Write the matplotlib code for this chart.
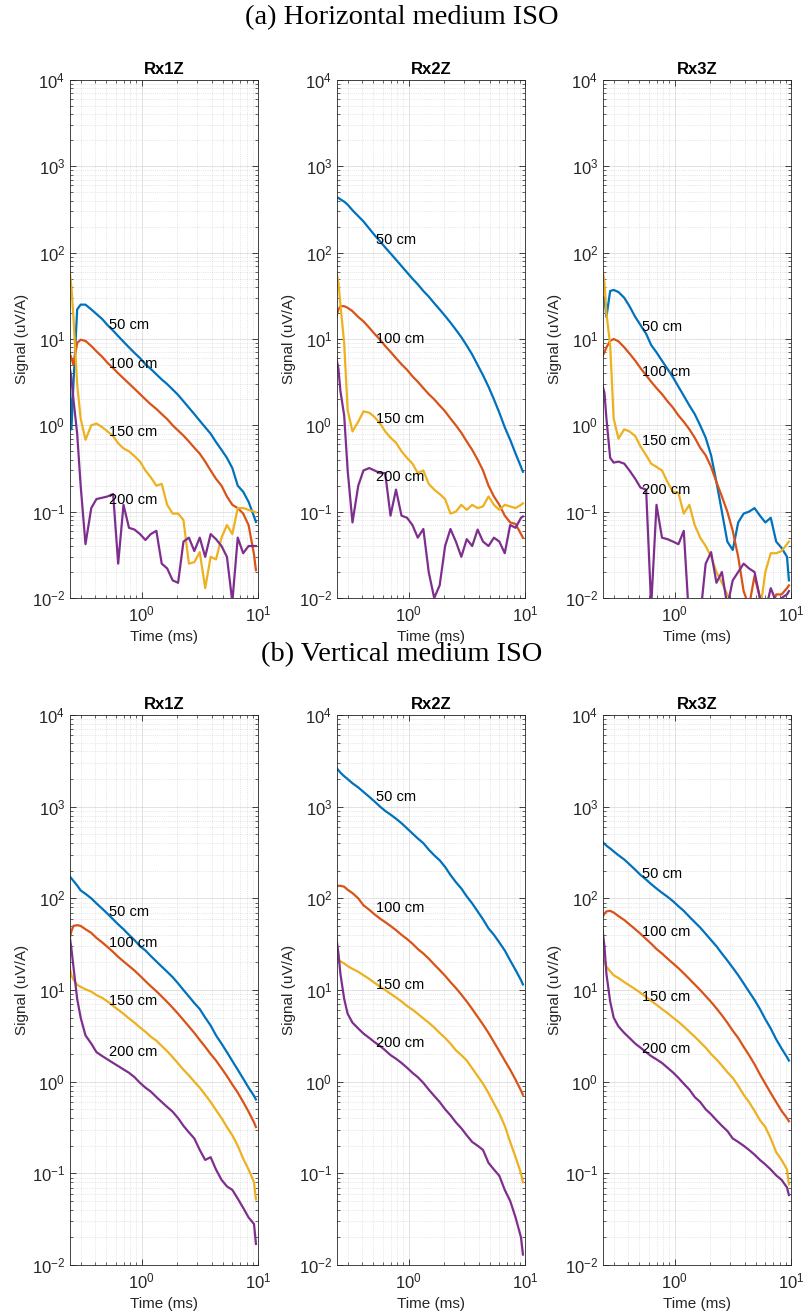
import numpy as np
import matplotlib.pyplot as plt
from matplotlib.ticker import LogLocator, NullFormatter

plt.rcParams['font.family'] = ['Liberation Sans', 'DejaVu Sans']
plt.rcParams['mathtext.fontset'] = 'custom'
plt.rcParams['mathtext.rm'] = 'Liberation Sans'
plt.rcParams['mathtext.it'] = 'Liberation Sans:italic'
plt.rcParams['mathtext.bf'] = 'Liberation Sans:bold'
plt.rcParams['axes.unicode_minus'] = False

# time gates (ms)
t = [0.24, 0.25, 0.26, 0.28, 0.30, 0.33, 0.37, 0.41, 0.46, 0.51, 0.57, 0.63, 0.70,
     0.78, 0.87, 0.97, 1.08, 1.20, 1.34, 1.49, 1.66, 1.85, 2.06, 2.29, 2.55, 2.84,
     3.16, 3.52, 3.92, 4.36, 4.86, 5.41, 6.02, 6.70, 7.46, 8.30, 9.24, 9.60]

offsets = ['50 cm', '100 cm', '150 cm', '200 cm']
receivers = ['Rx1Z', 'Rx2Z', 'Rx3Z']

# (a) horizontal medium ISO
h_rx1_50 = [4.5, 0.9, 3.0, 22, 25, 25, 22, 19.5, 17, 14.5, 12.5, 10.8, 9.3, 8.0, 6.9, 6.0, 5.1, 4.5,
            3.9, 3.4, 3.0, 2.6, 2.25, 1.9, 1.6, 1.35, 1.13, 0.95, 0.8, 0.64, 0.52, 0.42, 0.32, 0.2,
            0.17, 0.13, 0.088, 0.076]
h_rx1_100 = [7.0, 6.0, 5.0, 9.0, 9.8, 9.5, 8.3, 7.2, 6.2, 5.3, 4.6, 4.0, 3.5, 3.05, 2.65, 2.3, 2.0,
             1.75, 1.55, 1.35, 1.18, 1.0, 0.87, 0.76, 0.65, 0.55, 0.47, 0.38, 0.3, 0.24, 0.2, 0.15,
             0.12, 0.11, 0.095, 0.07, 0.032, 0.021]
h_rx1_150 = [65, 40, 18, 3.0, 1.2, 0.68, 1.0, 1.05, 0.95, 0.85, 0.75, 0.62, 0.54, 0.5, 0.44, 0.38,
             0.3, 0.25, 0.2, 0.21, 0.12, 0.095, 0.095, 0.08, 0.025, 0.026, 0.034, 0.013, 0.03, 0.028,
             0.05, 0.07, 0.055, 0.11, 0.11, 0.105, 0.1, 0.098]
h_rx1_200 = [5.0, 3.5, 2.0, 0.8, 0.2, 0.042, 0.11, 0.14, 0.145, 0.15, 0.16, 0.025, 0.12, 0.065,
             0.062, 0.055, 0.047, 0.055, 0.06, 0.025, 0.022, 0.016, 0.015, 0.045, 0.05, 0.035, 0.05,
             0.03, 0.055, 0.048, 0.04, 0.03, 0.009, 0.05, 0.033, 0.04, 0.04, 0.04]

h_rx2_50 = [440, 430, 415, 390, 360, 310, 265, 230, 190, 160, 135, 115, 98, 83, 70, 59, 50, 43, 36,
            31, 26, 22, 18.5, 15.5, 12.8, 10.5, 8.4, 6.6, 5.0, 3.8, 2.8, 2.0, 1.4, 0.95, 0.68, 0.47,
            0.33, 0.29]
h_rx2_100 = [18, 22, 24, 24, 23, 21, 18, 16, 13.5, 11.5, 9.8, 8.3, 7.1, 6.0, 5.1, 4.4, 3.7, 3.2, 2.7,
             2.3, 2.0, 1.7, 1.45, 1.2, 1.0, 0.82, 0.65, 0.52, 0.4, 0.3, 0.2, 0.15, 0.12, 0.09, 0.075,
             0.072, 0.055, 0.05]
h_rx2_150 = [60, 45, 25, 9.0, 1.5, 0.85, 1.1, 1.45, 1.4, 1.25, 1.05, 0.85, 0.72, 0.63, 0.5, 0.42,
             0.36, 0.28, 0.3, 0.21, 0.18, 0.16, 0.14, 0.095, 0.1, 0.12, 0.105, 0.12, 0.11, 0.115,
             0.15, 0.12, 0.105, 0.12, 0.115, 0.11, 0.12, 0.125]
h_rx2_200 = [6.0, 4.5, 2.5, 1.3, 0.3, 0.075, 0.2, 0.3, 0.32, 0.3, 0.28, 0.28, 0.09, 0.18, 0.09,
             0.085, 0.07, 0.05, 0.063, 0.02, 0.01, 0.014, 0.04, 0.063, 0.045, 0.03, 0.048, 0.04,
             0.062, 0.045, 0.04, 0.05, 0.045, 0.033, 0.07, 0.065, 0.085, 0.088]

h_rx3_50 = [31, 30, 18, 36, 37, 35, 30, 24, 18, 14.5, 11.5, 8.5, 7.0, 5.6, 4.5, 3.6, 2.8, 2.2, 1.7,
            1.35, 1.0, 0.72, 0.45, 0.22, 0.1, 0.045, 0.036, 0.075, 0.095, 0.1, 0.11, 0.09, 0.075,
            0.085, 0.045, 0.038, 0.03, 0.016]
h_rx3_100 = [6.3, 7.0, 8.0, 9.5, 10, 9.4, 8.0, 6.8, 5.6, 4.6, 3.8, 3.2, 2.7, 2.3, 1.9, 1.6, 1.3,
             1.1, 0.9, 0.72, 0.55, 0.45, 0.33, 0.22, 0.15, 0.1, 0.06, 0.03, 0.012, 0.008, 0.018,
             0.01, 0.008, 0.007, 0.011, 0.011, 0.013, 0.014]
h_rx3_150 = [66, 45, 20, 8.5, 1.2, 0.7, 0.9, 0.85, 0.75, 0.57, 0.45, 0.36, 0.33, 0.3, 0.22, 0.17,
             0.165, 0.095, 0.12, 0.07, 0.05, 0.04, 0.03, 0.02, 0.015, 0.011, 0.008, 0.007, 0.005,
             0.006, 0.005, 0.007, 0.02, 0.033, 0.033, 0.035, 0.042, 0.045]
h_rx3_200 = [2.9, 2.4, 1.2, 0.42, 0.37, 0.38, 0.36, 0.3, 0.24, 0.19, 0.18, 0.008, 0.12, 0.05, 0.048,
             0.045, 0.042, 0.06, 0.005, 0.004, 0.006, 0.025, 0.034, 0.015, 0.02, 0.008, 0.016, 0.02,
             0.025, 0.022, 0.02, 0.01, 0.007, 0.013, 0.009, 0.01, 0.011, 0.012]

# (b) vertical medium ISO
v_rx1_50 = [175, 165, 155, 138, 122, 112, 100, 88, 77, 68, 59, 52, 46, 40, 35, 30, 27, 23.5, 20.5,
            18, 15.8, 13.8, 11.8, 10, 8.5, 7.2, 6.2, 5.0, 4.1, 3.2, 2.6, 2.1, 1.68, 1.35, 1.08,
            0.86, 0.7, 0.64]
v_rx1_100 = [35, 44, 50, 51, 50, 46, 42, 37, 33, 29.5, 26, 23, 20.5, 18.3, 16.3, 14.3, 12.5, 11,
             9.7, 8.5, 7.4, 6.4, 5.5, 4.7, 4.0, 3.4, 2.85, 2.4, 2.0, 1.7, 1.4, 1.15, 0.93, 0.76,
             0.6, 0.47, 0.36, 0.32]
v_rx1_150 = [18, 14.5, 13, 11.4, 10.8, 10.2, 9.6, 8.8, 8.2, 7.5, 6.7, 6.1, 5.5, 4.9, 4.4, 3.9, 3.5,
             3.1, 2.8, 2.45, 2.15, 1.85, 1.58, 1.35, 1.17, 1.0, 0.86, 0.72, 0.6, 0.49, 0.4, 0.32,
             0.26, 0.2, 0.145, 0.11, 0.08, 0.052]
v_rx1_200 = [41, 28, 18, 8, 5, 3.2, 2.6, 2.1, 1.9, 1.75, 1.6, 1.48, 1.36, 1.25, 1.12, 0.97, 0.86,
             0.78, 0.68, 0.6, 0.53, 0.47, 0.4, 0.33, 0.28, 0.24, 0.18, 0.14, 0.15, 0.11, 0.085,
             0.072, 0.066, 0.053, 0.042, 0.033, 0.028, 0.017]

v_rx2_50 = [2650, 2500, 2350, 2150, 2000, 1800, 1620, 1450, 1280, 1140, 1000, 900, 820, 740, 660,
            580, 510, 450, 400, 340, 295, 260, 220, 180, 150, 128, 105, 88, 72, 59, 47, 40, 33, 27,
            21, 16.5, 12.8, 11.5]
v_rx2_100 = [134, 137, 137, 134, 124, 114, 100, 84, 75, 67, 60, 55, 50, 45, 40, 36, 32, 28, 25, 22,
             19, 16.5, 14.3, 12.2, 10.5, 8.9, 7.5, 6.2, 5.1, 4.2, 3.4, 2.7, 2.15, 1.7, 1.35, 1.05,
             0.8, 0.72]
v_rx2_150 = [23, 21.5, 20.5, 19.5, 18.2, 17, 15.8, 14.5, 13.2, 12, 10.9, 10, 9.1, 8.3, 7.5, 6.7,
             6.1, 5.5, 4.9, 4.4, 3.9, 3.4, 3.0, 2.6, 2.2, 1.95, 1.7, 1.4, 1.15, 0.95, 0.75, 0.58,
             0.45, 0.33, 0.22, 0.15, 0.1, 0.08]
v_rx2_200 = [37, 25, 15, 8, 5.5, 4.4, 3.8, 3.35, 3.0, 2.7, 2.45, 2.2, 1.95, 1.78, 1.6, 1.42, 1.25,
             1.12, 0.97, 0.82, 0.7, 0.6, 0.5, 0.43, 0.36, 0.31, 0.26, 0.22, 0.2, 0.18, 0.13, 0.11,
             0.094, 0.066, 0.05, 0.033, 0.02, 0.013]

v_rx3_50 = [410, 395, 375, 350, 325, 295, 265, 235, 205, 180, 160, 143, 128, 115, 104, 93, 82, 73,
            63, 55, 48, 41, 35, 30, 25, 21, 17.5, 14.5, 11.8, 9.6, 7.8, 6.2, 4.8, 3.8, 2.9, 2.3,
            1.85, 1.7]
v_rx3_100 = [62, 68, 72, 73, 70, 64, 58, 52, 46, 41, 36, 32, 28, 25, 22, 19.5, 17.3, 15.2, 13.2,
             11.5, 10, 8.6, 7.4, 6.3, 5.3, 4.4, 3.6, 3.0, 2.4, 1.95, 1.55, 1.2, 0.95, 0.75, 0.6,
             0.48, 0.4, 0.37]
v_rx3_150 = [23, 20, 18, 16, 14.5, 13.5, 12.2, 11.2, 10.2, 9.3, 8.4, 7.6, 6.9, 6.2, 5.6, 5.0, 4.5,
             4.0, 3.5, 3.1, 2.7, 2.35, 2.0, 1.75, 1.5, 1.27, 1.1, 0.9, 0.72, 0.6, 0.48, 0.38, 0.32,
             0.24, 0.17, 0.14, 0.11, 0.076]
v_rx3_200 = [47, 30, 15, 7.5, 5.0, 4.0, 3.4, 3.0, 2.6, 2.35, 2.1, 1.9, 1.75, 1.6, 1.42, 1.26, 1.1,
             0.95, 0.82, 0.68, 0.6, 0.5, 0.44, 0.38, 0.33, 0.29, 0.24, 0.22, 0.2, 0.18, 0.16, 0.14,
             0.125, 0.11, 0.095, 0.085, 0.07, 0.058]

# label heights (signal value) for the offset annotations
h_label_y = [[14.5, 5.1, 0.84, 0.137], [140, 10, 1.17, 0.25], [13.7, 4.2, 0.65, 0.18]]
v_label_y = [[71, 32.5, 7.5, 2.1], [1280, 78, 11.3, 2.67], [182, 42.5, 8.4, 2.26]]
label_x = 0.53

colors = ['#0072BD', '#D95319', '#EDB120', '#7E2F8E']

rows = [
    ([[h_rx1_50, h_rx1_100, h_rx1_150, h_rx1_200],
      [h_rx2_50, h_rx2_100, h_rx2_150, h_rx2_200],
      [h_rx3_50, h_rx3_100, h_rx3_150, h_rx3_200]], h_label_y),
    ([[v_rx1_50, v_rx1_100, v_rx1_150, v_rx1_200],
      [v_rx2_50, v_rx2_100, v_rx2_150, v_rx2_200],
      [v_rx3_50, v_rx3_100, v_rx3_150, v_rx3_200]], v_label_y),
]

W, H = 804, 1315
fig = plt.figure(figsize=(W / 100, H / 100), dpi=100)

lefts = [70, 337, 603]
row_box = [(80, 598), (715, 1265)]  # top, bottom in pixels
ink = '#262626'

for r, (panels, label_y) in enumerate(rows):
    top, bot = row_box[r]
    for c in range(3):
        ax = fig.add_axes([lefts[c] / W, (H - bot) / H, 188 / W, (bot - top) / H])
        for k in range(4):
            ax.plot(t, panels[c][k], color=colors[k], lw=1.6)
            ax.text(label_x, label_y[c][k], offsets[k], fontsize=10.5, va='center', ha='left')
        ax.set_xscale('log')
        ax.set_yscale('log')
        ax.set_xlim(0.243, 10)
        ax.set_ylim(1e-2, 1e4)
        ax.set_yticks([1e-2, 1e-1, 1e0, 1e1, 1e2, 1e3, 1e4])
        ax.set_xticks([1, 10])
        ax.xaxis.set_minor_locator(LogLocator(base=10, subs=np.arange(2, 10), numticks=20))
        ax.yaxis.set_minor_locator(LogLocator(base=10, subs=np.arange(2, 10), numticks=20))
        ax.xaxis.set_minor_formatter(NullFormatter())
        ax.yaxis.set_minor_formatter(NullFormatter())
        ax.tick_params(which='both', direction='in', top=True, right=True, colors=ink,
                       labelsize=12)
        ax.tick_params(which='major', length=4, width=0.6)
        ax.tick_params(which='minor', length=2, width=0.5)
        ax.tick_params(axis='x', pad=5)
        ax.grid(True, which='major', color='#262626', alpha=0.15, lw=0.6)
        ax.grid(True, which='minor', color='#262626', alpha=0.2, lw=0.5, ls=':')
        for s in ax.spines.values():
            s.set_color(ink)
            s.set_linewidth(0.6)
        ax.set_title(receivers[c], fontsize=12, fontweight='bold', pad=4)
        ax.set_xlabel('Time (ms)', fontsize=11, color=ink, labelpad=4)
        ax.set_ylabel('Signal (uV/A)', fontsize=11, color=ink, labelpad=2)

fig.text(0.5, 1 - 18 / H, '(a) Horizontal medium ISO', ha='center', va='center',
         fontsize=20.5, family=['Liberation Serif', 'DejaVu Serif'])
fig.text(0.5, 1 - 655 / H, '(b) Vertical medium ISO', ha='center', va='center',
         fontsize=20.5, family=['Liberation Serif', 'DejaVu Serif'])

fig.savefig('out.png', dpi=100)
